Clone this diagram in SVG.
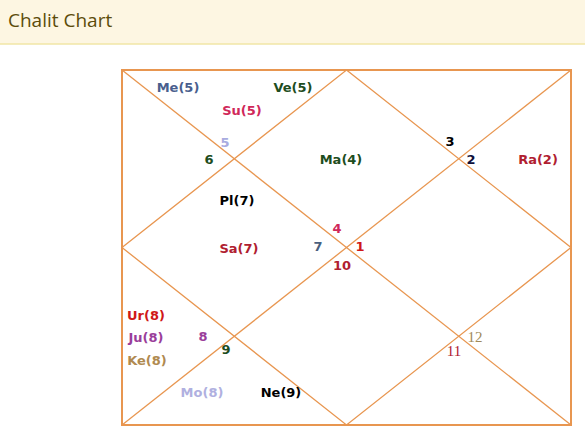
<svg xmlns="http://www.w3.org/2000/svg" width="585" height="437" viewBox="0 0 585 437">
<style>
.t{font-family:"DejaVu Sans",Verdana,sans-serif;font-size:13px;font-weight:bold;text-anchor:middle;dominant-baseline:central}
.s{font-family:"Liberation Serif",Georgia,serif;font-size:15px;text-anchor:middle;dominant-baseline:central}
.ln{stroke:#E89650;stroke-width:1.3;fill:none}
</style>
<rect x="0" y="0" width="585" height="437" fill="#fff"/>
<g id="header">
<rect x="0" y="0" width="585" height="44" fill="#FDF6E2"/>
<line x1="0" y1="44" x2="585" y2="44" stroke="#F0E6A6" stroke-width="1.5"/>
<text x="8" y="27" font-family="'Open Sans','Noto Sans',sans-serif" font-size="19" fill="#5C4C0A">Chalit Chart</text>
</g>
<g id="connectors">
<rect x="122" y="70" width="449" height="355" fill="none" stroke="#E89650" stroke-width="2"/>
<line class="ln" x1="122" y1="70" x2="571" y2="425"/>
<line class="ln" x1="571" y1="70" x2="122" y2="425"/>
<polygon class="ln" points="346.5,70 571,247.5 346.5,425 122,247.5"/>
</g>
<g id="house1"><text class="t" x="360" y="246" fill="#D01818">1</text><text class="t" x="341" y="159" fill="#1E4D1E">Ma(4)</text></g>
<g id="house2"><text class="t" x="471" y="159" fill="#10103A">2</text><text class="t" x="538" y="159" fill="#B02030">Ra(2)</text></g>
<g id="house3"><text class="t" x="450" y="141" fill="#000">3</text></g>
<g id="house4"><text class="t" x="337" y="228" fill="#D0285A">4</text></g>
<g id="house5"><text class="t" x="225" y="142" fill="#A8ACE0">5</text><text class="t" x="178" y="87" fill="#4A5F8E">Me(5)</text><text class="t" x="293" y="87" fill="#1E4D1E">Ve(5)</text><text class="t" x="242" y="110" fill="#D0285A">Su(5)</text></g>
<g id="house6"><text class="t" x="209" y="159" fill="#1E4D1E">6</text></g>
<g id="house7"><text class="t" x="318" y="246" fill="#4A5F7E">7</text><text class="t" x="237" y="200" fill="#000">Pl(7)</text><text class="t" x="239" y="248" fill="#B02030">Sa(7)</text></g>
<g id="house8"><text class="t" x="203" y="336" fill="#9A3E9A">8</text><text class="t" x="146" y="315" fill="#D01818">Ur(8)</text><text class="t" x="146" y="337" fill="#9A3E9A">Ju(8)</text><text class="t" x="147" y="360" fill="#B08A50">Ke(8)</text><text class="t" x="202" y="392" fill="#B0B0E0">Mo(8)</text></g>
<g id="house9"><text class="t" x="226" y="349" fill="#1E4D1E">9</text><text class="t" x="281" y="392" fill="#000">Ne(9)</text></g>
<g id="house10"><text class="t" x="342" y="265" fill="#B02030">10</text></g>
<g id="house11"><text class="s" x="454" y="351" fill="#B02030">11</text></g>
<g id="house12"><text class="s" x="475" y="337" fill="#A08A5A">12</text></g>
</svg>
